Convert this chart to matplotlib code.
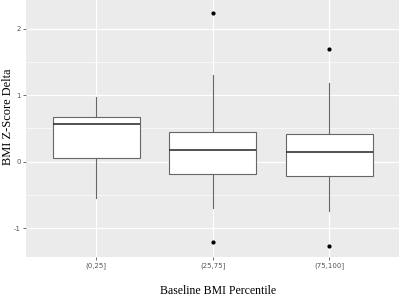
import matplotlib
matplotlib.use("Agg")
import matplotlib.pyplot as plt

categories = ["(0,25]", "(25,75]", "(75,100]"]
q1 = [0.06, -0.19, -0.22]
med = [0.57, 0.17, 0.14]
q3 = [0.67, 0.44, 0.41]
whislo = [-0.55, -0.70, -0.74]
whishi = [0.98, 1.30, 1.18]
outliers = [[], [2.24, -1.21], [1.69, -1.26]]

fig = plt.figure(figsize=(4.0, 2.97), dpi=100)
ax = fig.add_axes([0.066, 0.135, 0.932, 0.865])
ax.set_facecolor("#EBEBEB")

stats = []
for i, c in enumerate(categories):
    stats.append(dict(label=c, q1=q1[i], med=med[i], q3=q3[i],
                      whislo=whislo[i], whishi=whishi[i], fliers=outliers[i]))

pos = [1, 2, 3]
ax.bxp(stats, positions=pos, widths=0.75, patch_artist=True, showcaps=False,
       boxprops=dict(facecolor="white", edgecolor="#666666", linewidth=0.8),
       medianprops=dict(color="#333333", linewidth=1.2),
       whiskerprops=dict(color="#666666", linewidth=0.8),
       flierprops=dict(marker="o", markersize=2.0, markerfacecolor="black",
                       markeredgecolor="black", linestyle="none"),
       zorder=3)

ax.set_xlim(0.4, 3.6)
ax.set_ylim(-1.43, 2.43)
ax.set_yticks([-1, 0, 1, 2])
ax.set_yticklabels(["-1", "0", "1", "2"])
ax.set_yticks([-0.5, 0.5, 1.5], minor=True)
ax.set_xticks(pos)
ax.set_xticklabels(categories)
ax.grid(True, which="major", color="white", linewidth=0.9, zorder=0)
ax.grid(True, which="minor", axis="y", color="white", linewidth=0.45, zorder=0)
ax.set_axisbelow(True)
for s in ax.spines.values():
    s.set_visible(False)
ax.tick_params(axis="both", which="major", length=2, width=0.6, color="#555555",
               labelsize=5, labelcolor="#555555", pad=2)
ax.tick_params(axis="y", which="minor", length=0)

serif = ["Liberation Serif", "DejaVu Serif"]
fig.text(0.021, 0.606, "BMI Z-Score Delta", family=serif, fontsize=8.9,
         rotation=90, ha="center", va="center")
fig.text(0.545, 0.02, "Baseline BMI Percentile", family=serif,
         fontsize=8.5, ha="center", va="center")

fig.savefig("out.png", dpi=100)
